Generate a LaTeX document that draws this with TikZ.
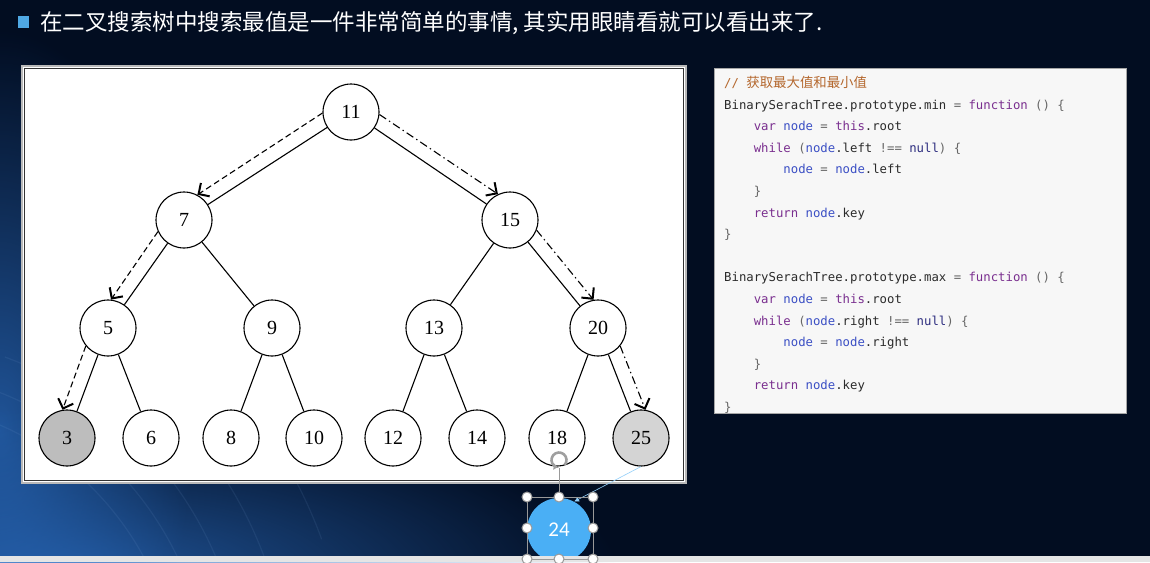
\documentclass[tikz,border=0pt]{standalone}
\usepackage{fontspec}
\setmainfont{Liberation Serif}
\setmonofont{DejaVu Sans Mono}
\newfontfamily\cjk{Noto Sans CJK SC}
\newfontfamily\uisans{Carlito}
\usetikzlibrary{arrows.meta,fadings}

\definecolor{bgnavy}{HTML}{020D21}
\definecolor{bgblue}{HTML}{2A6CC0}
\definecolor{bulletblue}{HTML}{4FA8E4}
\definecolor{cmtcol}{HTML}{B4672D}
\definecolor{kwcol}{HTML}{7A2F8F}
\definecolor{idcol}{HTML}{3B4FC4}
\definecolor{nullcol}{HTML}{2E2E80}
\definecolor{opcol}{HTML}{666666}
\definecolor{plaincol}{HTML}{2B2B2B}
\definecolor{bluedot}{HTML}{4AAFF5}

\tikzfading[name=glowfade, inner color=transparent!25, outer color=transparent!100]

\begin{document}
\begin{tikzpicture}[x=1pt,y=-1pt,>=Stealth,
  treenode/.style={circle,draw,line width=1.1pt,minimum size=56pt,inner sep=0pt,
    fill=white,font=\fontsize{20}{20}\selectfont},
  minarrow/.style={line width=1.1pt,dash pattern=on 6pt off 3.5pt,
    -{Straight Barb[length=8pt,width=16pt,line width=2pt]}},
  maxarrow/.style={line width=1.1pt,dash pattern=on 8pt off 3.5pt on 1.4pt off 3.5pt,
    -{Straight Barb[length=8pt,width=16pt,line width=2pt]}},
  handle/.style={draw=gray!80,fill=white,line width=1pt},
  selframe/.style={draw=gray!80,line width=1pt}]
  \useasboundingbox (0,0) rectangle (1150,562);
  \fill[bgnavy] (0,0) rectangle (1150,562);
  \begin{scope}
    \clip (0,0) rectangle (1150,562);
    \fill[bgblue,path fading=glowfade] (0,430) ellipse [x radius=190pt,y radius=400pt];
    \fill[bgblue,path fading=glowfade] (80,575) ellipse [x radius=540pt,y radius=170pt];
    \foreach \r in {300,330,365,410,470}
      \draw[bgblue!60!white,opacity=0.1,line width=1.2pt] (-120,700) ++(70:\r pt) arc[start angle=70,end angle=20,radius=\r pt];
  \end{scope}

  % title
  \fill[bulletblue] (18,16) rectangle (29,28);
  \node[anchor=west,text=white,font=\cjk\fontsize{22.5}{23}\selectfont,inner sep=0pt] (title) at (40,23)
    {在二叉搜索树中搜索最值是一件非常简单的事情, 其实用眼睛看就可以看出来了.};

  % tree panel
  \fill[white] (22,66) rectangle (686,483);
  \draw[gray!55,line width=2pt] (22,66) rectangle (686,483);
  \draw[black!80,line width=0.8pt] (24.5,68.5) rectangle (683.5,480.5);

  \node[treenode] (n11) at (351,112) {11};
  \node[treenode] (n7)  at (184,220) {7};
  \node[treenode] (n15) at (510,220) {15};
  \node[treenode] (n5)  at (108,328) {5};
  \node[treenode] (n9)  at (272,328) {9};
  \node[treenode] (n13) at (434,328) {13};
  \node[treenode] (n20) at (598,328) {20};
  \node[treenode,fill=black!26] (n3) at (67,438) {3};
  \node[treenode] (n6)  at (151,438) {6};
  \node[treenode] (n8)  at (231,438) {8};
  \node[treenode] (n10) at (314,438) {10};
  \node[treenode] (n12) at (393,438) {12};
  \node[treenode] (n14) at (477,438) {14};
  \node[treenode] (n18) at (557,438) {18};
  \node[treenode,fill=black!17] (n25) at (641,438) {25};

  \draw[line width=1.1pt] (n11) -- (n7);
  \draw[line width=1.1pt] (n11) -- (n15);
  \draw[line width=1.1pt] (n7) -- (n5);
  \draw[line width=1.1pt] (n7) -- (n9);
  \draw[line width=1.1pt] (n15) -- (n13);
  \draw[line width=1.1pt] (n15) -- (n20);
  \draw[line width=1.1pt] (n5) -- (n3);
  \draw[line width=1.1pt] (n5) -- (n6);
  \draw[line width=1.1pt] (n9) -- (n8);
  \draw[line width=1.1pt] (n9) -- (n10);
  \draw[line width=1.1pt] (n13) -- (n12);
  \draw[line width=1.1pt] (n13) -- (n14);
  \draw[line width=1.1pt] (n20) -- (n18);
  \draw[line width=1.1pt] (n20) -- (n25);

  % min path (left) and max path (right)
  \draw[minarrow] (n11.182.9) -- (n7.62.9);
  \draw[minarrow] (n7.204.9) -- (n5.84.9);
  \draw[minarrow] (n5.219.6) -- (n3.99.6);
  \draw[maxarrow] (n11.355.8) -- (n15.115.8);
  \draw[maxarrow] (n15.339.2) -- (n20.99.2);
  \draw[maxarrow] (n20.321.4) -- (n25.81.4);

  % code panel
  \fill[black!3] (714,68) rectangle (1126,413);
  \draw[gray!70,line width=0.8pt] (714,68) rectangle (1126,413);
  \node[anchor=north west,inner sep=0pt,align=left,text=plaincol,
    font=\ttfamily\fontsize{12.3}{21.6}\selectfont] (code) at (724,76) {%
\textcolor{cmtcol}{// {\cjk\fontsize{13.4}{21.6}\selectfont 获取最大值和最小值}}\\
BinarySerachTree.prototype.min \textcolor{opcol}{=} \textcolor{kwcol}{function} \textcolor{opcol}{() \{}\\
\phantom{0000}\textcolor{kwcol}{var} \textcolor{idcol}{node} \textcolor{opcol}{=} \textcolor{kwcol}{this}.root\\
\phantom{0000}\textcolor{kwcol}{while} \textcolor{opcol}{(}\textcolor{idcol}{node}.left \textcolor{opcol}{!==} \textcolor{nullcol}{null}\textcolor{opcol}{) \{}\\
\phantom{00000000}\textcolor{idcol}{node} \textcolor{opcol}{=} \textcolor{idcol}{node}.left\\
\phantom{0000}\textcolor{opcol}{\}}\\
\phantom{0000}\textcolor{kwcol}{return} \textcolor{idcol}{node}.key\\
\textcolor{opcol}{\}}\\
\mbox{}\\
BinarySerachTree.prototype.max \textcolor{opcol}{=} \textcolor{kwcol}{function} \textcolor{opcol}{() \{}\\
\phantom{0000}\textcolor{kwcol}{var} \textcolor{idcol}{node} \textcolor{opcol}{=} \textcolor{kwcol}{this}.root\\
\phantom{0000}\textcolor{kwcol}{while} \textcolor{opcol}{(}\textcolor{idcol}{node}.right \textcolor{opcol}{!==} \textcolor{nullcol}{null}\textcolor{opcol}{) \{}\\
\phantom{00000000}\textcolor{idcol}{node} \textcolor{opcol}{=} \textcolor{idcol}{node}.right\\
\phantom{0000}\textcolor{opcol}{\}}\\
\phantom{0000}\textcolor{kwcol}{return} \textcolor{idcol}{node}.key\\
\textcolor{opcol}{\}}};

  % selected shape
  \node[circle,fill=bluedot,minimum size=64pt,inner sep=0pt,text=white,
    font=\uisans\fontsize{21}{21}\selectfont] (n24) at (559,530) {24};
  \fill[black!10] (0,556) rectangle (1150,562);
  \draw[line width=0.6pt,draw=bluedot!60!white,-{Latex[length=5pt,width=5pt]}] (n25.south) -- (n24.62);
  \coordinate (rot) at (559,460);
  \coordinate (seltop) at (559,497);
  \draw[selframe] (527,497) rectangle (593,559);
  \draw[selframe] (seltop) -- ([yshift=-8pt]rot);
  \draw[gray!75,line width=2.6pt,-{Latex[length=4pt,width=7pt]}] (rot) ++(-40:7.5pt) arc[start angle=-40,end angle=260,radius=7.5pt];
  \foreach \hx in {527,559,593}
    \draw[handle] (\hx,497) circle (5pt);
  \draw[handle] (527,528) circle (5pt);
  \draw[handle] (593,528) circle (5pt);
  \foreach \hx in {527,559,593}
    \draw[handle] (\hx,559) circle (5pt);
\end{tikzpicture}
\end{document}
